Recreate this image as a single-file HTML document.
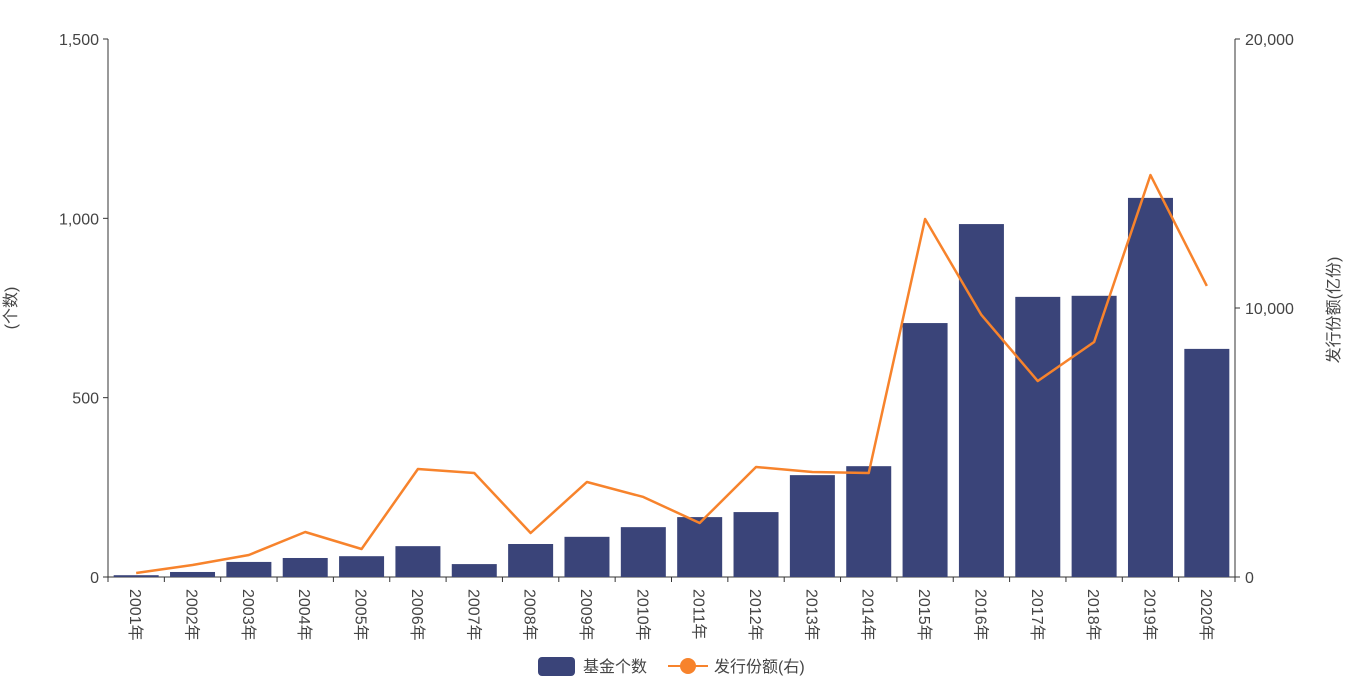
<!DOCTYPE html>
<html><head><meta charset="utf-8"><style>
body{margin:0;background:#fff;}
svg text{font-family:"Liberation Sans","Noto Sans CJK SC",sans-serif;fill:#444;}
</style></head><body>
<svg width="1351" height="676">
<g id="axes"></g><g id="bars"></g><g id="line"></g><g id="labels"></g>
<g>
<rect x="538" y="657" width="37" height="19" rx="4" fill="#3a4479"/>
<text x="583" y="672" font-size="16">基金个数</text>
<line x1="668" y1="666" x2="708" y2="666" stroke="#f7832c" stroke-width="2"/>
<circle cx="688" cy="666" r="8" fill="#f7832c"/>
<text x="714" y="672" font-size="16">发行份额(右)</text>
</g>
<text transform="translate(16,308) rotate(-90)" text-anchor="middle" font-size="16">(个数)</text>
<text transform="translate(1339,310) rotate(-90)" text-anchor="middle" font-size="16">发行份额(亿份)</text>
</svg>
<script>
const categories=["2001年","2002年","2003年","2004年","2005年","2006年","2007年","2008年","2009年","2010年","2011年","2012年","2013年","2014年","2015年","2016年","2017年","2018年","2019年","2020年"];
const fundCounts=[5,14,42,53,58,86,36,92,112,139,167,181,284,309,708,984,781,784,1057,636];
const issueShares=[150,446,818,1673,1041,4015,3866,1636,3532,2975,2007,4089,3903,3866,13309,9740,7286,8736,14944,10818];
const leftTicks=[0,500,1000,1500];
const leftTickLabels=["0","500","1,000","1,500"];
const rightTicks=[0,10000,20000];
const rightTickLabels=["0","10,000","20,000"];
const NS="http://www.w3.org/2000/svg";
const X0=108,X1=1235,Y0=577,Y1=39;
const band=(X1-X0)/categories.length;
const xc=i=>X0+band*(i+0.5);
const yL=v=>Y0-(v/1500)*(Y0-Y1);
const yR=v=>Y0-(v/20000)*(Y0-Y1);
function mk(tag,attrs,parent){const e=document.createElementNS(NS,tag);for(const k in attrs)e.setAttribute(k,attrs[k]);document.getElementById(parent).appendChild(e);return e;}
let e;
e=mk('line',{x1:X0,y1:Y1,x2:X0,y2:Y0,stroke:'#333'},'axes');


e=mk('line',{x1:X1,y1:Y1,x2:X1,y2:Y0,stroke:'#333'},'axes');


e=mk('line',{x1:X0,y1:Y0,x2:X1,y2:Y0,stroke:'#333'},'axes');


leftTicks.forEach((v,i)=>{
 mk('line',{x1:X0-5,x2:X0,y1:yL(v),y2:yL(v),stroke:'#333'},'axes');
 e=mk('text',{x:X0-9,y:yL(v)+6,'text-anchor':'end','font-size':16},'axes');e.textContent=leftTickLabels[i];
 
 
});
rightTicks.forEach((v,i)=>{
 mk('line',{x1:X1,x2:X1+5,y1:yR(v),y2:yR(v),stroke:'#333'},'axes');
 e=mk('text',{x:X1+10,y:yR(v)+6,'font-size':16},'axes');e.textContent=rightTickLabels[i];
 
 
});
for(let i=0;i<=categories.length;i++)mk('line',{x1:X0+band*i,x2:X0+band*i,y1:Y0,y2:Y0+5,stroke:'#333'},'axes');
categories.forEach((c,i)=>{
 e=mk('rect',{x:xc(i)-22.5,y:yL(fundCounts[i]),width:45,height:Y0-yL(fundCounts[i]),fill:'#3a4479'},'bars');
 
 
 e=mk('text',{transform:`translate(${xc(i)-6},${Y0+12}) rotate(90)`,'font-size':16},'labels');e.textContent=c;
 
 
});
e=mk('polyline',{points:issueShares.map((v,i)=>xc(i)+','+yR(v)).join(' '),fill:'none',stroke:'#f7832c','stroke-width':2.5,'stroke-linejoin':'round'},'line');


</script>
</body></html>
